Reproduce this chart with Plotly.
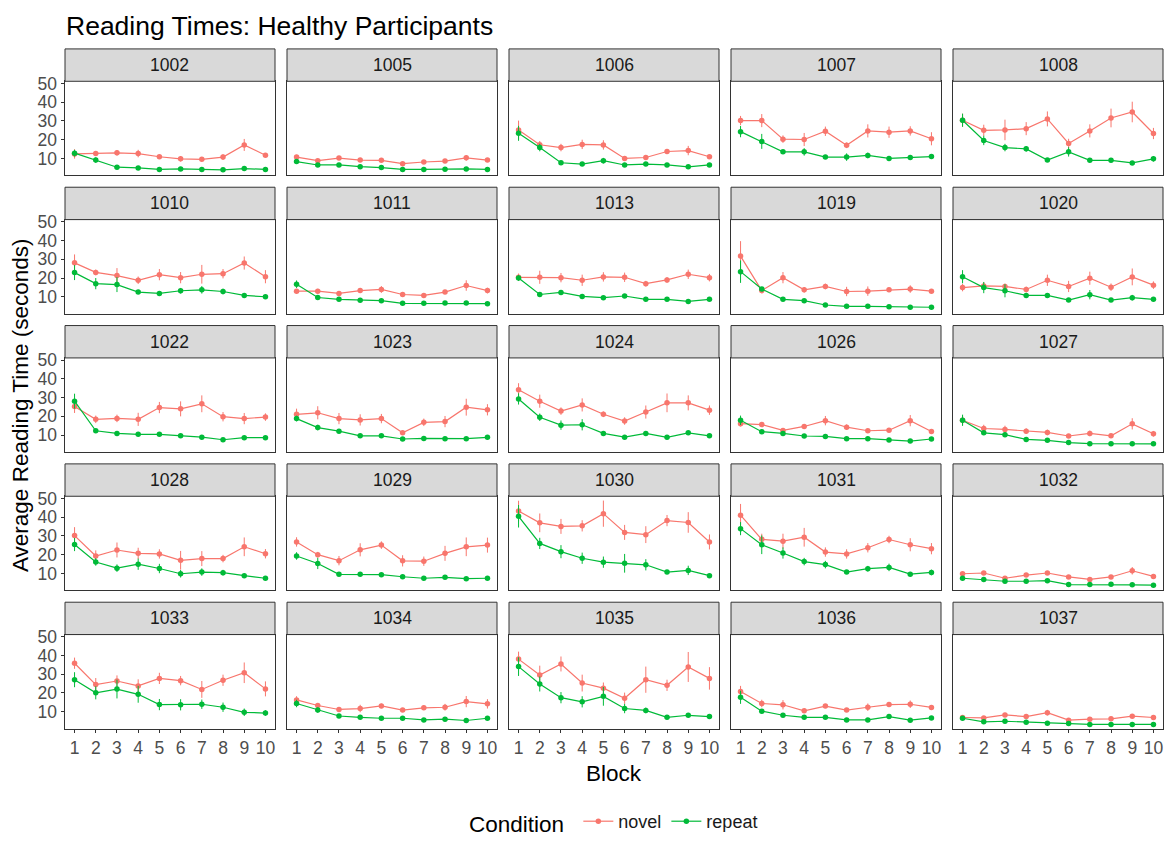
import plotly.graph_objects as go

participants = ["1002","1005","1006","1007","1008","1010","1011","1013","1019","1020",
                "1022","1023","1024","1026","1027","1028","1029","1030","1031","1032",
                "1033","1034","1035","1036","1037"]
blocks = [1,2,3,4,5,6,7,8,9,10]

novel_mean = [
 [12.4,12.6,13.0,12.6,10.9,9.8,9.5,10.7,17.2,11.7],
 [10.7,8.8,10.2,9.1,9.0,7.2,8.1,8.6,10.3,9.1],
 [25.2,17.3,15.8,17.5,17.2,10.0,10.5,13.7,14.2,10.9],
 [30.2,30.2,20.3,20.1,24.5,17.0,24.7,24.0,24.7,20.5],
 [30.4,25.0,25.2,25.9,31.1,18.0,24.7,31.6,34.8,23.3],
 [28.1,23.0,21.3,18.8,21.8,20.2,22.0,22.3,28.0,20.7],
 [13.0,13.0,11.8,13.3,13.9,11.2,10.7,12.5,16.0,13.3],
 [20.4,20.4,20.2,18.8,20.6,20.4,17.0,19.0,22.0,20.2],
 [31.7,13.3,20.2,13.7,15.5,12.8,13.0,13.7,14.1,13.0],
 [14.9,15.8,15.5,13.9,18.8,15.5,19.9,15.1,20.6,16.2],
 [25.3,18.4,18.9,18.4,24.7,24.0,26.7,19.8,18.8,19.6],
 [21.1,21.9,18.8,18.1,18.8,11.2,16.8,17.2,24.9,23.5],
 [34.2,28.1,22.8,26.1,21.1,17.5,22.3,27.2,27.2,23.3],
 [16.1,15.6,12.5,14.6,17.7,14.2,12.3,12.6,17.7,11.9],
 [17.9,13.5,13.0,12.1,11.4,9.5,10.9,9.6,16.0,10.7],
 [30.2,19.3,22.5,20.7,20.4,17.0,17.9,17.9,24.2,20.5],
 [26.8,20.0,16.8,22.6,25.1,16.7,16.5,20.7,24.2,25.1],
 [43.3,37.0,35.1,35.4,41.9,31.9,30.7,38.2,37.2,26.8],
 [41.1,28.2,27.2,29.3,21.4,20.4,23.7,28.1,25.3,23.2],
 [9.8,10.2,7.4,9.1,10.2,8.1,6.8,8.1,11.4,8.4],
 [35.9,24.5,26.4,23.8,27.8,26.6,21.9,26.8,30.8,22.2],
 [16.3,13.3,11.2,11.7,13.1,10.9,12.1,12.4,15.4,14.2],
 [38.1,29.6,35.5,25.3,22.6,17.2,27.1,24.1,33.9,27.8],
 [20.8,14.4,13.7,10.5,13.0,10.9,12.4,13.8,14.0,12.3],
 [6.9,6.7,8.3,7.4,9.5,5.5,6.0,6.2,7.6,6.9],
]
novel_err = [
 [2.5,1,1.5,2,1,1.5,1,1.5,3.2,1],
 [1.2,0.8,1,0.8,0.8,0.8,0.8,0.8,1.5,1],
 [5,2,2,2.5,2.5,1,1,1,2.5,1],
 [2.5,3.5,2,3.5,2.5,1.5,3.5,3,2.5,3.5],
 [3.5,3,5.5,3.5,4,2.5,3.5,5,5.5,3],
 [4.5,1.5,4,2,3,3,5,2.5,3.5,3.5],
 [1.2,1.2,1.2,1.2,1.8,1,1,1,2.8,1.5],
 [2,3.5,2.5,3,2.5,2.5,1.5,1.5,2.5,2],
 [8,1.5,3,1.5,1.5,2.5,2.5,1,2,1],
 [2,2,1.5,1.5,3,3,3.5,2,4.5,2],
 [3.5,2,2,3.5,3,4,4.5,2.5,3,2],
 [3,3.5,3,3,2.5,1,2,3,4.5,3],
 [3.5,3.5,2,3.5,1.5,2,3.5,5,4,2.5],
 [1.5,1,1,1,2.5,1.5,1,1,3,1],
 [2.5,2,2,1.5,1.5,1,1.5,1,3,1.5],
 [4.5,3,4,3,2.5,5,4,2,5,2.5],
 [2.5,1.5,2.5,3.5,2,3,2.5,4,5,4],
 [5.5,5,4,3,7,4,4.5,3,5.5,4],
 [6,3,4,5,2.5,2.5,2.5,2,3.5,3],
 [1,1,0.8,0.8,0.8,0.8,0.8,0.8,2,1],
 [3,3.5,3,3.5,3,2.5,4.5,3,5.5,4],
 [2,1,1,2,1.2,1,1.2,1.8,3,2.5],
 [4,5,4,4.5,3,3,7,3,8,6],
 [3,2,2.5,1,1,1,2,1,2,1],
 [0.6,0.6,0.8,0.8,1.5,0.5,0.5,0.5,0.8,0.6],
]
repeat_mean = [
 [12.8,9.1,5.3,4.9,4.1,4.4,4.1,3.9,4.6,4.1],
 [8.3,6.5,6.5,5.6,5.1,4.1,4.1,4.2,4.4,4.1],
 [23.4,15.8,7.7,7.0,8.8,6.5,7.0,6.5,5.5,6.5],
 [24.3,19.1,13.5,13.5,10.7,10.7,11.6,10.0,10.5,11.0],
 [30.4,19.6,15.8,15.1,9.1,13.5,9.0,9.0,7.6,9.8],
 [22.9,17.0,16.5,12.5,11.8,13.2,13.7,12.8,10.7,10.0],
 [16.7,9.6,8.6,8.1,7.9,6.5,6.5,6.7,6.7,6.3],
 [20.0,11.2,12.3,10.2,9.5,10.4,8.6,8.6,7.5,8.6],
 [23.4,14.1,8.6,7.9,5.6,4.9,4.9,4.7,4.4,4.4],
 [20.7,14.9,13.2,10.7,10.7,8.2,11.1,8.2,9.5,8.6],
 [28.1,12.3,10.9,10.4,10.4,9.6,8.9,7.5,8.6,8.6],
 [18.8,14.0,12.1,9.6,9.6,7.9,8.2,8.1,8.1,8.8],
 [29.3,19.5,15.3,15.5,10.9,8.9,10.9,8.8,11.2,9.6],
 [17.9,11.8,10.9,9.5,9.3,8.1,8.1,7.4,6.8,7.9],
 [17.9,11.2,10.2,7.7,7.2,6.0,5.4,5.3,5.4,5.3],
 [25.4,16.1,12.8,14.9,12.6,9.8,10.7,10.4,8.8,7.4],
 [19.3,15.3,9.5,9.6,9.3,8.2,7.4,7.9,7.2,7.4],
 [40.5,26.0,21.6,18.1,16.0,15.4,14.6,10.7,11.6,8.8],
 [33.9,25.3,20.9,16.3,14.7,10.7,12.5,13.2,9.6,10.5],
 [7.4,6.7,5.8,5.8,6.1,4.0,4.0,4.2,3.9,3.7],
 [27.1,20.1,22.1,19.3,13.8,13.7,14.0,12.4,9.7,9.3],
 [14.4,10.9,7.7,7.0,6.5,6.5,5.6,6.0,5.3,6.5],
 [34.1,24.8,17.5,15.3,18.2,11.7,10.7,7.0,8.1,7.4],
 [17.7,10.3,8.1,7.0,7.0,5.6,5.6,7.4,5.5,6.7],
 [6.5,4.6,4.9,4.4,3.9,3.7,3.2,3.2,3.2,3.2],
]
repeat_err = [
 [1.8,1.5,0.6,0.6,0.5,0.6,0.5,0.5,0.6,0.5],
 [0.8,0.6,0.6,0.5,0.5,0.4,0.4,0.4,0.5,0.4],
 [4,2,0.8,0.8,1.5,0.8,0.8,0.6,0.6,1],
 [3,4,1,2,1,2,1.5,1,1,1],
 [3.5,2.5,2,1.5,1,2.5,1,1,1,1.5],
 [4,3,4,1,1,1.5,2,1.5,1,0.8],
 [2,1,0.8,0.6,0.6,0.6,0.5,0.5,0.5,0.5],
 [1.5,1,1,0.8,0.8,0.8,0.8,0.8,0.8,0.8],
 [6,1,0.6,0.6,0.5,0.5,0.5,0.5,0.5,0.5],
 [3.5,3,3.5,1,1,0.8,2.5,0.8,1.5,0.8],
 [4,0.8,0.8,0.8,0.8,0.8,0.8,0.8,0.8,0.8],
 [1.5,1.5,0.8,0.8,0.8,0.6,0.6,0.6,0.6,1],
 [3,2,2.5,3,1,0.8,1,0.8,1,0.8],
 [2.5,0.8,0.8,0.6,0.6,0.6,0.6,0.6,0.6,0.6],
 [3,1,1,0.6,0.6,0.5,0.5,0.5,0.5,0.5],
 [3.5,2,2,3,2.5,2,2,1.5,1,0.8],
 [2,3,0.8,0.8,0.8,0.6,0.6,0.6,0.6,0.6],
 [6,3,3.5,3,3,5,3,1,2.5,0.8],
 [3.5,5,3,2,2,1,1.5,2,1,1.5],
 [0.8,0.6,0.5,0.5,0.5,0.4,0.4,0.4,0.4,0.4],
 [4,3.5,5,4.5,3,3,2.5,2.5,2,1.5],
 [2,1.5,0.6,0.6,0.5,0.5,0.5,0.5,0.5,0.5],
 [5,4,3,3,5,2.5,1.5,0.8,0.8,0.8],
 [3.5,0.8,0.6,0.6,0.6,0.5,0.5,0.6,0.5,0.6],
 [0.5,0.4,0.4,0.4,0.4,0.4,0.3,0.3,0.3,0.3],
]

W, H = 1167, 843
FONT = "Liberation Sans, Arial, Helvetica, sans-serif"
NOVEL_C = "#F8766D"
REPEAT_C = "#00BA38"

left0, pw, hgap = 65.0, 210.0, 12.0
top0, sh, ph, vpitch = 41.7, 33.0, 96.0, 141.0

def px_x(x):
    return x / W

def px_y(y):
    return (H - y) / H

fig = go.Figure()
layout = dict(
    width=W, height=H,
    margin=dict(l=0, r=0, t=0, b=0),
    paper_bgcolor="white", plot_bgcolor="white",
    font=dict(family=FONT, color="#000000"),
    showlegend=True,
)
shapes = []
annotations = []

for i, pid in enumerate(participants):
    r, c = divmod(i, 5)
    x0 = left0 + c * (pw + hgap)
    x1 = x0 + pw
    st = top0 + r * vpitch
    pt = st + sh
    pb = pt + ph
    ax = "" if i == 0 else str(i + 1)
    xa, ya = "x" + ax, "y" + ax
    for name, mean, err, col in (("novel", novel_mean[i], novel_err[i], NOVEL_C),
                                  ("repeat", repeat_mean[i], repeat_err[i], REPEAT_C)):
        fig.add_trace(go.Scatter(
            x=blocks, y=mean, xaxis=xa, yaxis=ya,
            mode="lines+markers", name=name, legendgroup=name,
            showlegend=(i == 0),
            line=dict(color=col, width=1.2),
            marker=dict(color=col, size=5.5),
            error_y=dict(type="data", array=err, visible=True, color=col,
                         thickness=1, width=0),
        ))
    bottom = (r == 4)
    leftc = (c == 0)
    layout["xaxis" + ax] = dict(
        domain=[px_x(x0), px_x(x1)], anchor=ya, range=[0.55, 10.45],
        showgrid=False, zeroline=False, showline=True, mirror=True,
        linecolor="#333333", linewidth=1,
        tickmode="array", tickvals=blocks, ticktext=[str(b) for b in blocks],
        ticks="outside" if bottom else "", ticklen=3.5, tickcolor="#333333",
        showticklabels=bottom, tickfont=dict(size=17.5, color="#4D4D4D", family=FONT),
    )
    layout["yaxis" + ax] = dict(
        domain=[px_y(pb), px_y(pt)], anchor=xa, range=[0.9, 51.2],
        showgrid=False, zeroline=False, showline=True, mirror=True,
        linecolor="#333333", linewidth=1,
        tickmode="array", tickvals=[10, 20, 30, 40, 50],
        ticks="outside" if leftc else "", ticklen=3.5, tickcolor="#333333",
        showticklabels=leftc, tickfont=dict(size=17.5, color="#4D4D4D", family=FONT),
    )
    shapes.append(dict(type="rect", xref="paper", yref="paper",
                       x0=px_x(x0), x1=px_x(x1), y0=px_y(pt), y1=px_y(st),
                       fillcolor="#D9D9D9", line=dict(color="#333333", width=1),
                       layer="above"))
    annotations.append(dict(text=pid, xref="paper", yref="paper",
                            x=px_x((x0 + x1) / 2), y=px_y((st + pt) / 2),
                            xanchor="center", yanchor="middle", showarrow=False,
                            font=dict(size=17.5, color="#1A1A1A", family=FONT)))

# titles
annotations.append(dict(text="Reading Times: Healthy Participants", xref="paper", yref="paper",
                        x=px_x(64), y=px_y(18), xanchor="left", yanchor="middle",
                        showarrow=False, font=dict(size=26.5, color="#000000", family=FONT)))
annotations.append(dict(text="Block", xref="paper", yref="paper",
                        x=px_x((left0 + left0 + 5 * pw + 4 * hgap) / 2), y=px_y(780),
                        xanchor="center", yanchor="middle", showarrow=False,
                        font=dict(size=22.5, color="#000000", family=FONT)))
annotations.append(dict(text="Average Reading Time (seconds)", xref="paper", yref="paper",
                        x=px_x(20), y=px_y((top0 + sh + top0 + 4 * vpitch + sh + ph) / 2),
                        xanchor="center", yanchor="middle", textangle=-90, showarrow=False,
                        font=dict(size=22.5, color="#000000", family=FONT)))

layout["shapes"] = shapes
layout["annotations"] = annotations
layout["legend"] = dict(
    orientation="h", x=px_x(615), xanchor="center", y=px_y(831), yanchor="middle",
    title=dict(text="Condition ", font=dict(size=22.5, color="#000000", family=FONT), side="left"),
    font=dict(size=18, color="#1A1A1A", family=FONT),
    itemwidth=30, bgcolor="rgba(0,0,0,0)",
)
fig.update_layout(**layout)
fig.write_html("out.html")
